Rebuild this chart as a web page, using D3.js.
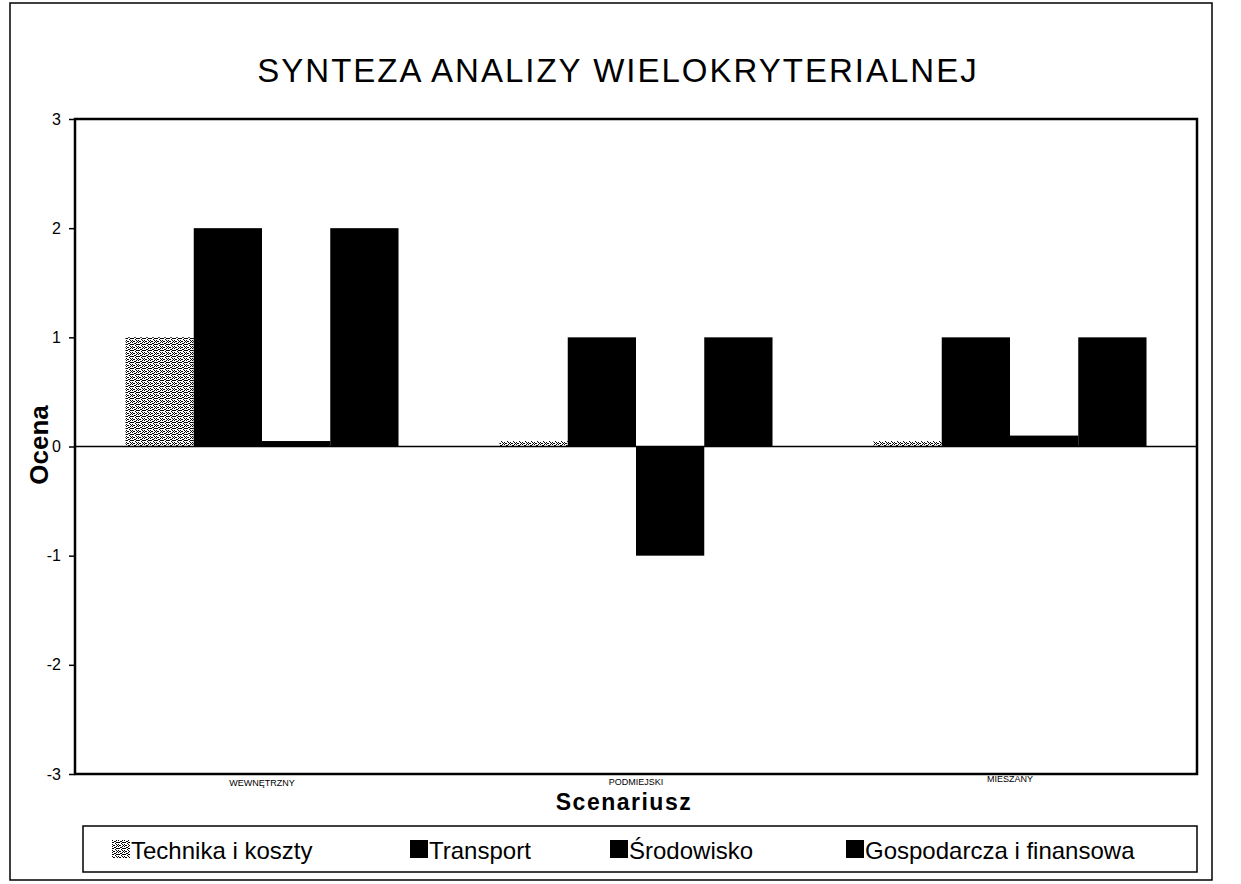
<!DOCTYPE html>
<html>
<head>
<meta charset="utf-8">
<script src="https://cdn.jsdelivr.net/npm/d3@7"></script>
<style>
  body { margin: 0; background: #fff; }
  text { font-family: 'Liberation Sans', Arial, sans-serif; }
</style>
</head>
<body>
<script>
var width = 1241;
var height = 884;

// data
var scenarios = ['WEWNĘTRZNY', 'PODMIEJSKI', 'MIESZANY'];
var criteria = ['Technika i koszty', 'Transport', 'Środowisko', 'Gospodarcza i finansowa'];
var technika = [1, 0.05, 0.05];
var transport = [2, 1, 1];
var srodowisko = [0.05, -1, 0.1];
var gospodarcza = [2, 1, 1];
var yTicks = [-3, -2, -1, 0, 1, 2, 3];

var series = [technika, transport, srodowisko, gospodarcza];
var rows = [];
scenarios.forEach((s, i) => {
    criteria.forEach((c, j) => rows.push({scen: s, crit: c, val: series[j][i]}))
})

var svg = d3.select('body').append('svg')
    .attr('width', width)
    .attr('height', height)

// stipple fill for the first series
var defs = svg.append('defs')
var pat = defs.append('pattern')
    .attr('id', 'stipple')
    .attr('patternUnits', 'userSpaceOnUse')
    .attr('width', 6).attr('height', 6)
pat.append('rect').attr('width', 6).attr('height', 6).attr('fill', '#fff')
var dots = [[0,0],[2,1],[4,0],[1,2],[3,3],[5,2],[0,4],[2,5],[4,4],[5,5],[1,5],[3,1],[0,2],[4,2]]
dots.forEach(d => pat.append('rect').attr('x', d[0]).attr('y', d[1]).attr('width', 1).attr('height', 1).attr('fill', '#000'))

function fillFor(crit){
    return crit == criteria[0] ? 'url(#stipple)' : '#000'
}

// outer frame
svg.append('rect')
    .attr('x', 10).attr('y', 3)
    .attr('width', 1202).attr('height', 877)
    .attr('fill', 'none')
    .attr('stroke', '#000')
    .attr('stroke-width', 1.5)

svg.append('text')
    .attr('x', 618).attr('y', 82)
    .attr('text-anchor', 'middle')
    .attr('font-size', '33px')
    .attr('letter-spacing', '2px')
    .text('SYNTEZA ANALIZY WIELOKRYTERIALNEJ')

var margin = {left: 75, right: 1197, top: 119, bottom: 774};

var x0 = d3.scaleBand()
    .domain(scenarios)
    .range([margin.left, margin.right])
    .paddingInner(0.27)
    .paddingOuter(0.135)

var x1 = d3.scaleBand()
    .domain(criteria)
    .range([0, x0.bandwidth()])

var y = d3.scaleLinear()
    .domain([-3, 3])
    .range([margin.bottom, margin.top])

// bars
svg.append('g')
    .selectAll('rect')
    .data(rows).enter()
    .append('rect')
        .attr('x', d => x0(d.scen) + x1(d.crit))
        .attr('y', d => y(Math.max(0, d.val)))
        .attr('width', x1.bandwidth())
        .attr('height', d => Math.abs(y(d.val) - y(0)))
        .attr('fill', d => fillFor(d.crit))

// zero line
svg.append('line')
    .attr('x1', margin.left).attr('x2', margin.right)
    .attr('y1', y(0)).attr('y2', y(0))
    .attr('stroke', '#000')
    .attr('stroke-width', 1.5)

// plot frame
svg.append('rect')
    .attr('x', margin.left).attr('y', margin.top)
    .attr('width', margin.right - margin.left)
    .attr('height', margin.bottom - margin.top)
    .attr('fill', 'none')
    .attr('stroke', '#000')
    .attr('stroke-width', 2.5)

// y axis
var yAxis = svg.append('g')
    .attr('transform', 'translate(' + margin.left + ',0)')
    .call(d3.axisLeft(y).tickValues(yTicks).tickSize(6).tickFormat(d => String(d)))
yAxis.select('.domain').remove()
yAxis.selectAll('line').attr('stroke', '#000').attr('stroke-width', 1.5)
yAxis.selectAll('text')
    .attr('font-size', '16px')
    .attr('fill', '#000')
    .attr('font-family', "'Liberation Sans', Arial, sans-serif")
    .attr('x', -14)

// category labels
var catY = [786, 785, 782];
svg.append('g')
    .selectAll('text')
    .data(scenarios).enter()
    .append('text')
        .attr('x', d => x0(d) + x0.bandwidth() / 2)
        .attr('y', (d, i) => catY[i])
        .attr('text-anchor', 'middle')
        .attr('font-size', '9px')
        .text(d => d)

svg.append('text')
    .attr('x', 624).attr('y', 810)
    .attr('text-anchor', 'middle')
    .attr('font-size', '23px')
    .attr('font-weight', 'bold')
    .attr('letter-spacing', '1.5px')
    .text('Scenariusz')

svg.append('text')
    .attr('transform', 'translate(48,445) rotate(-90)')
    .attr('text-anchor', 'middle')
    .attr('font-size', '26px')
    .attr('font-weight', 'bold')
    .text('Ocena')

// legend
var legend = svg.append('g')
legend.append('rect')
    .attr('x', 83).attr('y', 826)
    .attr('width', 1114).attr('height', 46)
    .attr('fill', '#fff')
    .attr('stroke', '#000')
    .attr('stroke-width', 1.5)

var legX = [112, 410, 610, 846];
var items = legend.selectAll('g.item')
    .data(criteria).enter()
    .append('g')
        .attr('transform', (d, i) => 'translate(' + legX[i] + ',840)')
items.append('rect')
    .attr('width', 18).attr('height', 18)
    .attr('fill', d => fillFor(d))
items.append('text')
    .attr('x', 19).attr('y', 19)
    .attr('font-size', '24px')
    .text(d => d)
</script>
</body>
</html>
